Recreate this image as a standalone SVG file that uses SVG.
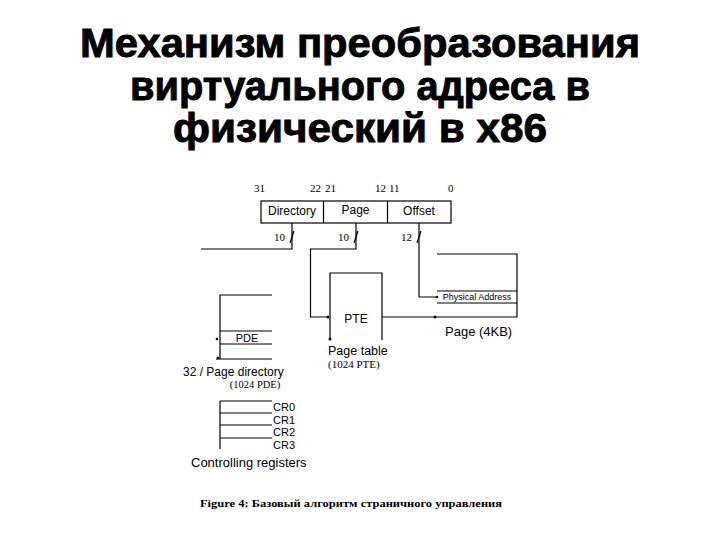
<svg xmlns="http://www.w3.org/2000/svg" width="720" height="540" viewBox="0 0 720 540">
<style>
.title{font-family:"Liberation Sans","Arial",sans-serif;font-weight:bold;font-size:40px;fill:#000;stroke:#000;stroke-width:0.9px;text-anchor:middle}
.ln{fill:none;stroke:#000;stroke-width:1.2}
.sans{font-family:"Liberation Sans","DejaVu Sans",sans-serif;fill:#000}
.serif{font-family:"Liberation Serif","DejaVu Serif",serif;fill:#000}
.dot{fill:#000}
</style>
<rect width="720" height="540" fill="#fff"/>
<g id="title">
<text class="title" x="360" y="57" textLength="560" lengthAdjust="spacingAndGlyphs">Механизм преобразования</text>
<text class="title" x="360" y="100" textLength="460" lengthAdjust="spacingAndGlyphs">виртуального адреса в</text>
<text class="title" x="360" y="142" textLength="374" lengthAdjust="spacingAndGlyphs">физический в x86</text>
</g>
<g id="linear-address">
<rect class="ln" x="261" y="201" width="190" height="22"/>
<line class="ln" x1="323.5" y1="201" x2="323.5" y2="223"/>
<line class="ln" x1="387.5" y1="201" x2="387.5" y2="223"/>
<text class="sans" x="292" y="215" font-size="12" text-anchor="middle">Directory</text>
<text class="sans" x="355.5" y="214" font-size="12" text-anchor="middle">Page</text>
<text class="sans" x="419" y="215" font-size="12" text-anchor="middle">Offset</text>
<g class="serif" font-size="11">
<text x="254" y="192">31</text>
<text x="310" y="192">22</text>
<text x="325" y="192">21</text>
<text x="375" y="192">12</text>
<text x="389" y="192">11</text>
<text x="448" y="192">0</text>
<text x="285" y="241" text-anchor="end">10</text>
<text x="349" y="241" text-anchor="end">10</text>
<text x="412" y="241" text-anchor="end">12</text>
</g>
</g>
<g id="page-directory">
<path class="ln" d="M272,295 H220 V359 M216,359 H272 M220,331 H272 M220,344 H272"/>
<text class="sans" x="247" y="342" font-size="11" text-anchor="middle">PDE</text>
<text class="sans" x="183" y="376" font-size="12">32 / Page directory</text>
<text class="serif" x="255" y="388" font-size="10.5" text-anchor="middle">(1024 PDE)</text>
</g>
<g id="page-table">
<path class="ln" d="M330,339 V273 H382 V340"/>
<text class="sans" x="356" y="323" font-size="12" text-anchor="middle">PTE</text>
<text class="sans" x="328" y="355" font-size="12.5">Page table</text>
<text class="serif" x="328" y="368" font-size="11">(1024 PTE)</text>
</g>
<g id="page">
<path class="ln" d="M437,254 H517 V317 H382 M437,291 H517 M437,303 H517"/>
<text class="sans" x="477" y="300" font-size="9" text-anchor="middle">Physical Address</text>
<text class="sans" x="445" y="336" font-size="13">Page (4KB)</text>
</g>
<g id="control-registers">
<path class="ln" d="M220,401 V449 M220,401 H272 M220,413 H272 M220,425 H272 M220,438 H272"/>
<g class="sans" font-size="11">
<text x="273" y="411">CR0</text>
<text x="273" y="424">CR1</text>
<text x="273" y="436">CR2</text>
<text x="273" y="449">CR3</text>
</g>
<text class="sans" x="191" y="467" font-size="13">Controlling registers</text>
</g>
<g id="connectors">
<path class="ln" d="M292,223 V249 H201"/>
<path class="ln" d="M356,223 V249 H310.5 V317 H328"/>
<path class="ln" d="M419,223 V297 H437"/>
<path class="ln" d="M290,243 L294,231 M354,243 L358,231 M417,243 L421,231"/>
<circle class="dot" cx="328" cy="317" r="1.5"/>
<circle class="dot" cx="330" cy="339" r="1.5"/>
<circle class="dot" cx="435" cy="317" r="1.5"/>
<circle class="dot" cx="437" cy="297" r="1.3"/>
<circle class="dot" cx="217" cy="339" r="1.3"/>
<circle class="dot" cx="218" cy="358" r="1.3"/>
</g>
<text class="serif" x="200" y="507" font-size="11" font-weight="bold" textLength="302" lengthAdjust="spacingAndGlyphs">Figure 4: Базовый алгоритм страничного управления</text>
</svg>
